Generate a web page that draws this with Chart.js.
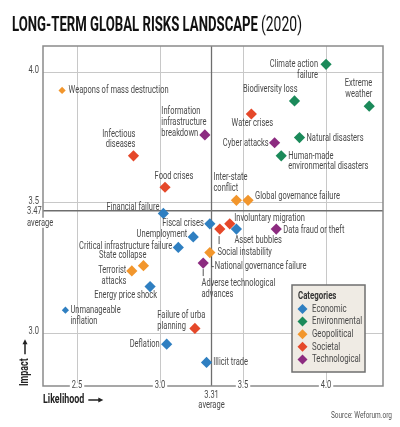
<!DOCTYPE html>
<html>
<head>
<meta charset="utf-8">
<script src="https://cdn.jsdelivr.net/npm/chart.js@4.4.1/dist/chart.umd.min.js"></script>
<style>
  html, body { margin: 0; padding: 0; background: #fff; }
  #wrap { position: relative; width: 400px; height: 427px; }
</style>
</head>
<body>
<div id="wrap"><canvas id="risksChart"></canvas></div>
<script>
const riskNames = [
  'Weapons of mass destruction', 'Information\ninfrastructure\nbreakdown', 'Infectious\ndiseases',
  'Food crises', 'Financial failure', 'Climate action\nfailure', 'Biodiversity loss',
  'Extreme\nweather', 'Water crises', 'Cyber attacks', 'Natural disasters',
  'Human-made\nenvironmental disasters', 'Inter-state\nconflict', 'Global governance failure',
  'Fiscal crises', 'Involuntary migration', 'Social instability', 'Asset bubbles',
  'Data fraud or theft', 'Unemployment', 'Critical infrastructure failure',
  'National governance failure', 'Adverse technological\nadvances', 'State collapse',
  'Terrorist\nattacks', 'Energy price shock', 'Unmanageable\ninflation',
  'Failure of urba\nplanning', 'Deflation', 'Illicit trade'
];
const likelihood = [
  2.41, 3.27, 2.84, 3.03, 3.02, 4.00, 3.81, 4.26, 3.55, 3.69, 3.84, 3.73, 3.46, 3.53, 3.30,
  3.42, 3.36, 3.46, 3.70, 3.20, 3.11, 3.30, 3.26, 2.90, 2.83, 2.94, 2.43, 3.21, 3.04, 3.28
];
const impact = [
  3.93, 3.76, 3.68, 3.56, 3.46, 4.03, 3.89, 3.87, 3.84, 3.73, 3.75, 3.68, 3.51, 3.51, 3.42,
  3.42, 3.40, 3.40, 3.40, 3.37, 3.33, 3.31, 3.27, 3.26, 3.24, 3.18, 3.09, 3.02, 2.96, 2.89
];
const riskCategory = [
  'Geopolitical', 'Technological', 'Societal', 'Societal', 'Economic', 'Environmental', 'Environmental',
  'Environmental', 'Societal', 'Technological', 'Environmental', 'Environmental', 'Geopolitical', 'Geopolitical',
  'Economic', 'Societal', 'Societal', 'Economic', 'Technological', 'Economic', 'Economic',
  'Geopolitical', 'Technological', 'Geopolitical', 'Geopolitical', 'Economic', 'Economic',
  'Societal', 'Economic', 'Economic'
];
const categories = ['Economic', 'Environmental', 'Geopolitical', 'Societal', 'Technological'];
const likelihoodTicks = [2.5, 3.0, 3.5, 4.0];
const impactTicks = [3.0, 3.5, 4.0];
const avgLikelihood = 3.31;
const avgImpact = 3.47;

// Styling
const categoryColors = {
  Economic: '#2f7fc1',
  Environmental: '#1b8a5a',
  Geopolitical: '#f2962c',
  Societal: '#e5482a',
  Technological: '#8c2b80'
};
const smallMarkers = ['Weapons of mass destruction', 'Unmanageable\ninflation'];
const FONT = 'Roboto, "DejaVu Sans", sans-serif';
const TEXT_COLOR = '#4a4a4a';
const LINE_H = 10.8;
let squeeze = 0.7; // horizontal squeeze to imitate the condensed face

// Label placement relative to each marker: align, dx, dy (first line), optional leader line
const labelLayout = {
  'Weapons of mass destruction': ['left', 6.5, 0],
  'Information\ninfrastructure\nbreakdown': ['left', -43.5, -23.5],
  'Infectious\ndiseases': ['right', 2, -22],
  'Food crises': ['center', 9, -11],
  'Financial failure': ['right', -4, -6],
  'Climate action\nfailure': ['right', -8, 0],
  'Biodiversity loss': ['right', 3, -12],
  'Extreme\nweather': ['right', 3, -23],
  'Water crises': ['center', 1, 9.5],
  'Cyber attacks': ['right', -6, 0],
  'Natural disasters': ['left', 7, 0.5],
  'Human-made\nenvironmental disasters': ['left', 7, 0],
  'Inter-state\nconflict': ['left', -23, -22.6],
  'Global governance failure': ['left', 7, -4.5],
  'Fiscal crises': ['right', -6, -1],
  'Involuntary migration': ['left', 4.5, -6],
  'Social instability': ['left', -2.3, 23.5, [[-0.7, 7], [-0.7, 15]]],
  'Asset bubbles': ['left', -2, 10.7],
  'Data fraud or theft': ['left', 7, 1],
  'Unemployment': ['right', -6, -2.5],
  'Critical infrastructure failure': ['right', -6, -1.5],
  'National governance failure': ['left', 5, 14, [[1.7, 4], [1.7, 14], [4, 14]]],
  'Adverse technological\nadvances': ['left', -1.7, 20, [[0, 6], [0, 13]]],
  'State collapse': ['right', 3, -10],
  'Terrorist\nattacks': ['right', -5.5, -0.5],
  'Energy price shock': ['right', 7, 9],
  'Unmanageable\ninflation': ['left', 5, 0],
  'Failure of urba\nplanning': ['left', -37.6, -13.4],
  'Deflation': ['right', -7, 0],
  'Illicit trade': ['left', 6.7, 0]
};

// Build one dataset per category
function buildDatasets() {
  return categories.map(cat => {
    const points = [];
    riskNames.forEach((name, i) => {
      if (riskCategory[i] === cat) {
        points.push({ x: likelihood[i], y: impact[i], name: name });
      }
    });
    return {
      label: cat,
      data: points,
      backgroundColor: categoryColors[cat],
      borderColor: categoryColors[cat],
      borderWidth: 0,
      pointStyle: 'rectRot',
      pointRadius: points.map(p => smallMarkers.includes(p.name) ? 3.6 : 5.6),
      pointHoverRadius: points.map(p => smallMarkers.includes(p.name) ? 3.6 : 5.6)
    };
  });
}

// Draw text squeezed horizontally (condensed look)
function labelText(ctx, text, x, y, align) {
  ctx.save();
  ctx.translate(x, y);
  ctx.scale(squeeze, 1);
  ctx.textAlign = align;
  ctx.fillText(text, 0, 0);
  ctx.restore();
}

function textWidth(ctx, text) {
  return ctx.measureText(text).width * squeeze;
}

// Frame, averages and tick labels behind the markers
const backdropPlugin = {
  id: 'backdrop',
  beforeDatasetsDraw(chart) {
    const { ctx, chartArea: a, scales: { x, y } } = chart;
    ctx.save();
    // work out the squeeze from a reference label width
    ctx.font = '11px ' + FONT;
    squeeze = 100 / ctx.measureText('Weapons of mass destruction').width;

    // average lines
    ctx.strokeStyle = '#6e6e6e';
    ctx.lineWidth = 1.3;
    const ax = x.getPixelForValue(avgLikelihood);
    const ay = y.getPixelForValue(avgImpact);
    ctx.beginPath();
    ctx.moveTo(ax, a.top); ctx.lineTo(ax, a.bottom);
    ctx.moveTo(a.left, ay); ctx.lineTo(a.right, ay);
    ctx.stroke();
    // frame
    ctx.strokeStyle = '#8a8a8a';
    ctx.lineWidth = 1.5;
    ctx.strokeRect(a.left, a.top, a.right - a.left, a.bottom - a.top);

    ctx.textBaseline = 'middle';
    ctx.fillStyle = TEXT_COLOR;
    // x tick labels sit on the bottom line
    likelihoodTicks.forEach(v => {
      const px = x.getPixelForValue(v);
      const t = v.toFixed(1);
      const w = textWidth(ctx, t);
      ctx.fillStyle = '#fff';
      ctx.fillRect(px - w / 2 - 2, a.bottom - 3, w + 4, 6);
      ctx.fillStyle = TEXT_COLOR;
      labelText(ctx, t, px, a.bottom - 1, 'center');
    });
    labelText(ctx, avgLikelihood.toFixed(2), ax, a.bottom + 9, 'center');
    labelText(ctx, 'average', ax, a.bottom + 19, 'center');
    // y tick labels
    impactTicks.forEach(v => {
      const py = y.getPixelForValue(v);
      labelText(ctx, v.toFixed(1), a.left - 4, py - 2, 'right');
    });
    labelText(ctx, avgImpact.toFixed(2), 27, ay, 'left');
    ctx.fillStyle = '#fff';
    ctx.fillRect(a.left - 1, ay + 7, 12, 10);
    ctx.fillStyle = TEXT_COLOR;
    labelText(ctx, 'average', 27, ay + 12, 'left');
    ctx.restore();
  }
};

// Point labels, legend, titles
const annotatePlugin = {
  id: 'annotate',
  afterDatasetsDraw(chart) {
    const { ctx, chartArea: a } = chart;
    ctx.save();
    ctx.font = '11px ' + FONT;
    ctx.fillStyle = TEXT_COLOR;
    ctx.strokeStyle = '#555';
    ctx.lineWidth = 1;
    ctx.textBaseline = 'middle';
    chart.data.datasets.forEach((ds, d) => {
      const meta = chart.getDatasetMeta(d);
      ds.data.forEach((p, j) => {
        const el = meta.data[j];
        const lay = labelLayout[p.name];
        if (!lay) return;
        const [align, dx, dy, lead] = lay;
        p.name.split('\n').forEach((line, k) => {
          labelText(ctx, line, el.x + dx, el.y + dy + k * LINE_H, align);
        });
        if (lead) {
          ctx.beginPath();
          lead.forEach(([lx, ly], k) => {
            if (k === 0) ctx.moveTo(el.x + lx, el.y + ly);
            else ctx.lineTo(el.x + lx, el.y + ly);
          });
          ctx.stroke();
        }
      });
    });

    // legend box
    const lx = 292, ly = 285, lw = 73, lh = 87;
    ctx.fillStyle = '#efebe4';
    ctx.fillRect(lx, ly, lw, lh);
    ctx.strokeStyle = '#6f6f6f';
    ctx.lineWidth = 1.5;
    ctx.strokeRect(lx, ly, lw, lh);
    ctx.fillStyle = '#333';
    ctx.font = 'bold 11.5px ' + FONT;
    labelText(ctx, 'Categories', lx + 6, ly + 11, 'left');
    ctx.font = '11.5px ' + FONT;
    chart.data.datasets.forEach((ds, i) => {
      const cy = ly + 24 + i * 12.6;
      const cx = lx + 10.5;
      ctx.fillStyle = ds.backgroundColor;
      ctx.beginPath();
      ctx.moveTo(cx - 5, cy); ctx.lineTo(cx, cy - 5); ctx.lineTo(cx + 5, cy); ctx.lineTo(cx, cy + 5);
      ctx.closePath();
      ctx.fill();
      ctx.fillStyle = TEXT_COLOR;
      labelText(ctx, ds.label, lx + 20, cy, 'left');
    });

    // title
    ctx.fillStyle = '#111';
    ctx.textAlign = 'left';
    ctx.font = 'bold 21px ' + FONT;
    ctx.fillText('LONG-TERM GLOBAL RISKS LANDSCAPE', 12, 26, 246);
    ctx.font = '21px ' + FONT;
    ctx.fillText('(2020)', 261, 26, 41);

    // axis titles
    ctx.fillStyle = '#222';
    ctx.strokeStyle = '#222';
    ctx.font = 'bold 13px ' + FONT;
    labelText(ctx, 'Likelihood', a.left, 400, 'left');
    const lwid = textWidth(ctx, 'Likelihood');
    const arx = a.left + lwid + 4;
    ctx.beginPath(); ctx.moveTo(arx, 400); ctx.lineTo(arx + 12, 400); ctx.stroke();
    ctx.beginPath(); ctx.moveTo(arx + 15, 400); ctx.lineTo(arx + 10, 397.5); ctx.lineTo(arx + 10, 402.5); ctx.closePath(); ctx.fill();

    ctx.save();
    ctx.translate(25, a.bottom);
    ctx.rotate(-Math.PI / 2);
    labelText(ctx, 'Impact', 0, 0, 'left');
    const iw = textWidth(ctx, 'Impact');
    ctx.beginPath(); ctx.moveTo(iw + 4, 0); ctx.lineTo(iw + 16, 0); ctx.stroke();
    ctx.beginPath(); ctx.moveTo(iw + 19, 0); ctx.lineTo(iw + 14, -2.5); ctx.lineTo(iw + 14, 2.5); ctx.closePath(); ctx.fill();
    ctx.restore();

    // source
    ctx.fillStyle = '#555';
    ctx.font = '9.5px ' + FONT;
    labelText(ctx, 'Source: Weforum.org', 392, 416, 'right');
    ctx.restore();
  }
};

function initializeChart() {
  const ctx = document.getElementById('risksChart').getContext('2d');
  new Chart(ctx, {
    type: 'scatter',
    data: { datasets: buildDatasets() },
    options: {
      responsive: true,
      maintainAspectRatio: false,
      animation: false,
      events: [],
      layout: { padding: { left: 43, right: 17, top: 46, bottom: 41 } },
      plugins: {
        legend: { display: false },
        tooltip: { enabled: false }
      },
      scales: {
        x: {
          type: 'linear',
          min: 2.295,
          max: 4.343,
          afterBuildTicks: axis => { axis.ticks = likelihoodTicks.map(v => ({ value: v })); },
          ticks: { display: false },
          border: { display: false },
          grid: { color: '#c8c8c8', borderDash: [1, 2], lineWidth: 1, drawTicks: false }
        },
        y: {
          type: 'linear',
          min: 2.8,
          max: 4.1,
          afterBuildTicks: axis => { axis.ticks = impactTicks.map(v => ({ value: v })); },
          ticks: { display: false },
          border: { display: false },
          grid: { color: '#c8c8c8', borderDash: [1, 2], lineWidth: 1, drawTicks: false }
        }
      }
    },
    plugins: [backdropPlugin, annotatePlugin]
  });
}

document.addEventListener('DOMContentLoaded', initializeChart);
</script>
</body>
</html>
